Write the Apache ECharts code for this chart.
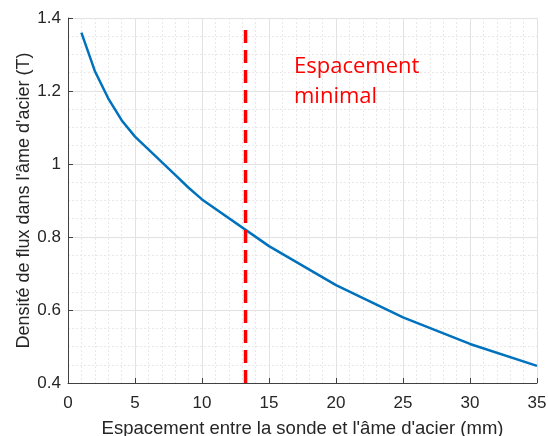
<!DOCTYPE html>
<html>
<head>
<meta charset="utf-8">
<script src="https://cdn.jsdelivr.net/npm/echarts@6/dist/echarts.min.js"></script>
<style>
  html, body { margin: 0; padding: 0; background: #fff; }
  #chart { width: 548px; height: 436px; }
</style>
</head>
<body>
<div id="chart"></div>
<script>
// espacement (mm) et densité de flux (T)
const gapMm = [1, 2, 3, 4, 5, 6, 7, 8, 9, 10, 15, 20, 25, 30, 35];
const fluxT = [1.36, 1.255, 1.18, 1.12, 1.075, 1.04, 1.005, 0.97, 0.935, 0.903, 0.775, 0.668, 0.58, 0.507, 0.447];
const minGap = 13.25;
const minGapRange = [0.4, 1.37];

let myChart = echarts.init(document.getElementById("chart"));
let fontFam = "Liberation Sans, Arial, sans-serif";

let option = {
  animation: false,
  grid: { left: 68, right: 11, top: 18, bottom: 53, outerBoundsMode: "none", containLabel: false },
  xAxis: {
    type: "value",
    min: 0,
    max: 35,
    interval: 5,
    name: "Espacement entre la sonde et l'âme d'acier (mm)",
    nameLocation: "middle",
    nameGap: 36,
    nameMoveOverlap: false,
    nameTextStyle: { color: "#262626", fontSize: 18.5, fontFamily: fontFam },
    axisLine: { lineStyle: { color: "#404040" } },
    axisTick: { inside: true, length: 5, lineStyle: { color: "#404040" } },
    axisLabel: { color: "#262626", fontSize: 17, fontFamily: fontFam, margin: 12 },
    splitLine: { lineStyle: { color: "#e2e2e2" } },
    minorTick: { show: false, splitNumber: 5 },
    minorSplitLine: { show: true, lineStyle: { color: "#e8e8e8", type: [2, 2] } },
  },
  yAxis: {
    type: "value",
    min: 0.4,
    max: 1.4,
    interval: 0.2,
    name: "Densité de flux dans l'âme d'acier (T)",
    nameLocation: "middle",
    nameGap: 35,
    nameMoveOverlap: false,
    nameTextStyle: { color: "#262626", fontSize: 18, fontFamily: fontFam },
    axisLine: { show: true, lineStyle: { color: "#404040" } },
    axisTick: { show: true, inside: true, length: 5, lineStyle: { color: "#404040" } },
    axisLabel: { color: "#262626", fontSize: 17, fontFamily: fontFam, margin: 7 },
    splitLine: { lineStyle: { color: "#e2e2e2" } },
    minorTick: { show: false, splitNumber: 4 },
    minorSplitLine: { show: true, lineStyle: { color: "#e8e8e8", type: [2, 2] } },
  },
  series: [
    {
      type: "line",
      symbol: "none",
      data: gapMm.map((x, i) => [x, fluxT[i]]),
      lineStyle: { color: "#0072BD", width: 2.5 },
      z: 3,
    },
    {
      type: "line",
      symbol: "none",
      data: minGapRange.map((y) => [minGap, y]),
      lineStyle: { color: "#ff0000", width: 3.5, type: [13, 7] },
      z: 4,
    },
  ],
  graphic: [
    {
      type: "text",
      left: 294,
      top: 52,
      z: 100,
      style: {
        text: "Espacement\nminimal",
        fill: "#ff0000",
        fontSize: 22,
        lineHeight: 30,
        fontFamily: "Open Sans, Noto Sans, sans-serif",
      },
    },
  ],
};
myChart.setOption(option);
</script>
</body>
</html>
